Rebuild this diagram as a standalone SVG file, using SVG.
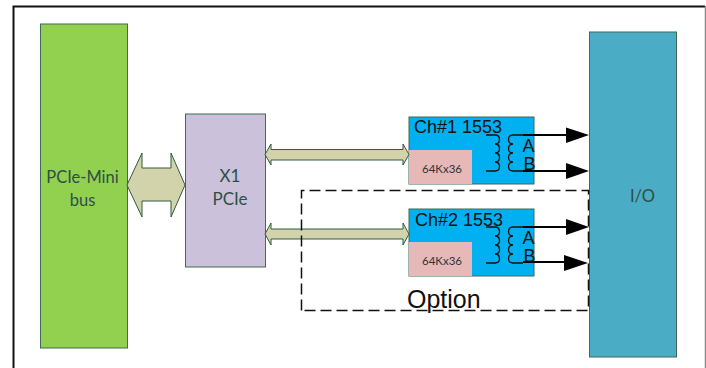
<svg xmlns="http://www.w3.org/2000/svg" width="706" height="368" viewBox="0 0 706 368">
<style>
.box{stroke:#3f6a55;stroke-width:1}
.arr{fill:#d2d3ab;stroke:#2f5a40;stroke-width:1}
.dk{font-family:"Lato","Liberation Sans",sans-serif;fill:#2f4f45;text-anchor:middle}
.ar{font-family:"Liberation Sans",Arial,sans-serif;fill:#111}
.ln{fill:none;stroke:#000;stroke-width:2}
.coil{fill:none;stroke:#111;stroke-width:1.300}
</style>
<defs>
<path id="coilL" d="M486 0H495C501 0 501 9 495 9C501 9 501 18 495 18C501 18 501 27 495 27C501 27 501 36 495 36H486"/>
<path id="coilR" d="M523 0H513C507 0 507 9 513 9C507 9 507 18 513 18C507 18 507 27 513 27C507 27 507 36 513 36H523"/>
</defs>
<rect width="706" height="368" fill="#fff"/>
<g id="frame">
<path d="M13.500 368V6.500H705" fill="none" stroke="#111" stroke-width="2"/>
<path d="M705.500 6V368" fill="none" stroke="#888" stroke-width="1.500"/>
</g>
<g id="pcie-mini-bus">
<rect class="box" x="40.500" y="24" width="87" height="324" fill="#92d050"/>
<text class="dk" x="82.500" y="183" font-size="16.500">PCIe-Mini</text>
<text class="dk" x="82.500" y="206" font-size="16.500">bus</text>
</g>
<g id="x1-pcie">
<rect class="box" x="185.500" y="114" width="80" height="153" fill="#ccc1da"/>
<text class="dk" x="230" y="182" font-size="17">X1</text>
<text class="dk" x="230" y="205" font-size="17">PCIe</text>
</g>
<g id="ch1">
<rect class="box" x="409" y="117" width="125" height="67" fill="#00b0f0"/>
<rect x="409" y="150" width="63" height="34" fill="#e6b9b8"/>
<text class="dk" x="442" y="173" font-size="11.500" style="fill:#333">64Kx36</text>
<text class="ar" x="414" y="133" font-size="18">Ch#1 1553</text>
<text class="ar" x="522.500" y="152" font-size="18">A</text>
<text class="ar" x="523.500" y="170" font-size="18">B</text>
<use href="#coilL" class="coil" y="135"/>
<use href="#coilR" class="coil" y="135"/>
</g>
<g id="ch2">
<rect class="box" x="409" y="209" width="125" height="67" fill="#00b0f0"/>
<rect x="409" y="242" width="63" height="34" fill="#e6b9b8"/>
<text class="dk" x="442" y="265" font-size="11.500" style="fill:#333">64Kx36</text>
<text class="ar" x="415" y="226" font-size="18">Ch#2 1553</text>
<text class="ar" x="522.500" y="244" font-size="18">A</text>
<text class="ar" x="523.500" y="262" font-size="18">B</text>
<use href="#coilL" class="coil" y="227"/>
<use href="#coilR" class="coil" y="227"/>
</g>
<g id="io">
<rect class="box" x="589.500" y="32" width="87" height="325" fill="#4bacc6"/>
<text class="dk" x="642.500" y="202" font-size="16.500">I/O</text>
</g>
<g id="option">
<text class="ar" x="407" y="308" font-size="25">Option</text>
</g>
<g id="connectors">
<path class="arr" d="M265 154.500L271 144V149.500H403V144L409 154.500L403 165V160H271V165Z"/>
<path class="arr" d="M265 234L271 223V229H403V223L409 234L403 245V239H271V245Z"/>
<path class="arr" d="M127 185L142 153V168H171V153L185 185L171 217V201H142V217Z"/>
<path d="M301.500 310.500V190.500H588.500V310.500Z" fill="none" stroke="#111" stroke-width="1.500" stroke-dasharray="11 5"/>
<path class="ln" d="M523 135H568M523 171H568M523 227H568M523 262H566"/>
<path d="M566 127.500L589 135L566 143ZM566 163L589 171L566 179ZM566 219L589 227L566 235ZM564 255L588 263L564 271Z" fill="#000"/>
</g>
</svg>
